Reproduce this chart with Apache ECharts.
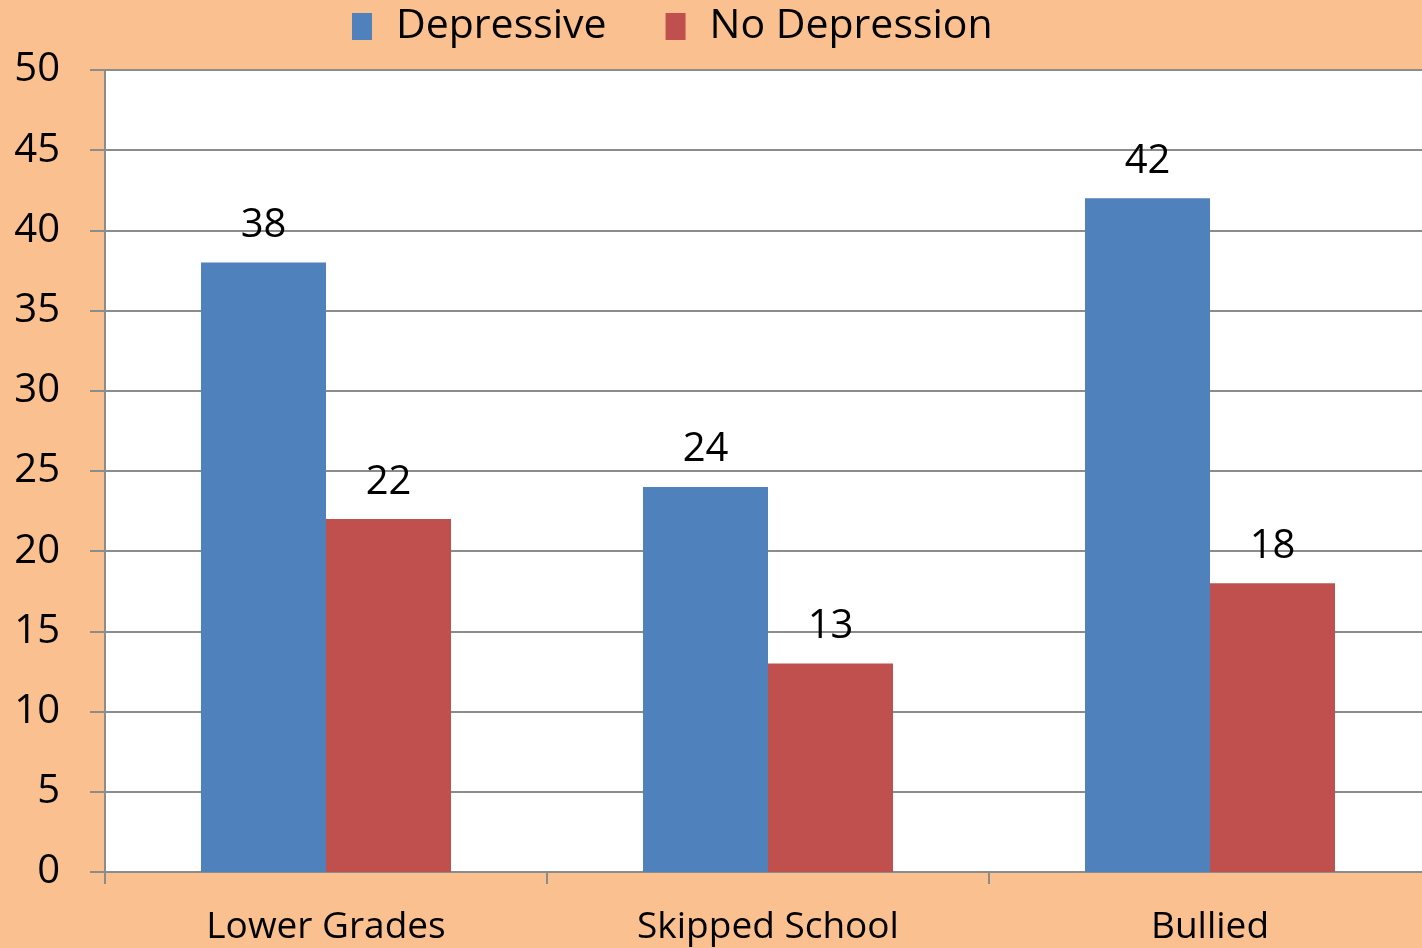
<!DOCTYPE html>
<html>
<head>
<meta charset="utf-8">
<script src="https://cdn.jsdelivr.net/npm/echarts@6/dist/echarts.min.js"></script>
<style>
  html, body { margin: 0; padding: 0; background: #FAC090; }
  #chart { width: 1422px; height: 948px; }
</style>
</head>
<body>
<div id="chart"></div>
<script>
// data
var categories = ['Lower Grades', 'Skipped School', 'Bullied'];
var depressive = [38, 24, 42];
var noDepression = [22, 13, 18];
var seriesNames = ['Depressive', 'No Depression'];

var font = 'Open Sans';
var gray = '#8C8C8C';

var myChart = echarts.init(document.getElementById('chart'));

var labelStyle = {
    show: true,
    position: 'top',
    distance: 17,
    color: '#000',
    fontFamily: font,
    fontSize: 40
};

var option = {
    backgroundColor: '#FAC090',
    animation: false,
    legend: {
        data: seriesNames,
        top: 1,
        left: 347,
        itemWidth: 20,
        itemHeight: 27,
        itemGap: 59,
        icon: 'rect',
        textStyle: { color: '#000', fontFamily: font, fontSize: 41, padding: [0, 0, 0, 19] }
    },
    grid: {
        left: 105,
        width: 1326,
        top: 70,
        bottom: 76,
        outerBoundsMode: 'none',
        show: true,
        backgroundColor: '#fff',
        borderWidth: 0
    },
    xAxis: {
        type: 'category',
        data: categories,
        axisLine: { lineStyle: { color: gray, width: 2 } },
        axisTick: { show: true, length: 12, lineStyle: { color: gray, width: 2 } },
        axisLabel: { color: '#000', fontFamily: font, fontSize: 37, margin: 37 }
    },
    yAxis: {
        type: 'value',
        min: 0,
        max: 50,
        interval: 5,
        axisLine: { show: true, lineStyle: { color: gray, width: 2 } },
        axisTick: { show: true, length: 15, lineStyle: { color: gray, width: 2 } },
        axisLabel: { color: '#000', fontFamily: font, fontSize: 40, margin: 45 },
        splitLine: { lineStyle: { color: gray, width: 2 } }
    },
    series: [
        {
            name: seriesNames[0],
            type: 'bar',
            data: depressive,
            barWidth: 125,
            barGap: '0%',
            itemStyle: { color: '#4F81BD' },
            label: labelStyle
        },
        {
            name: seriesNames[1],
            type: 'bar',
            data: noDepression,
            barWidth: 125,
            barGap: '0%',
            itemStyle: { color: '#C0504D' },
            label: labelStyle
        }
    ]
};

option && myChart.setOption(option);
</script>
</body>
</html>
